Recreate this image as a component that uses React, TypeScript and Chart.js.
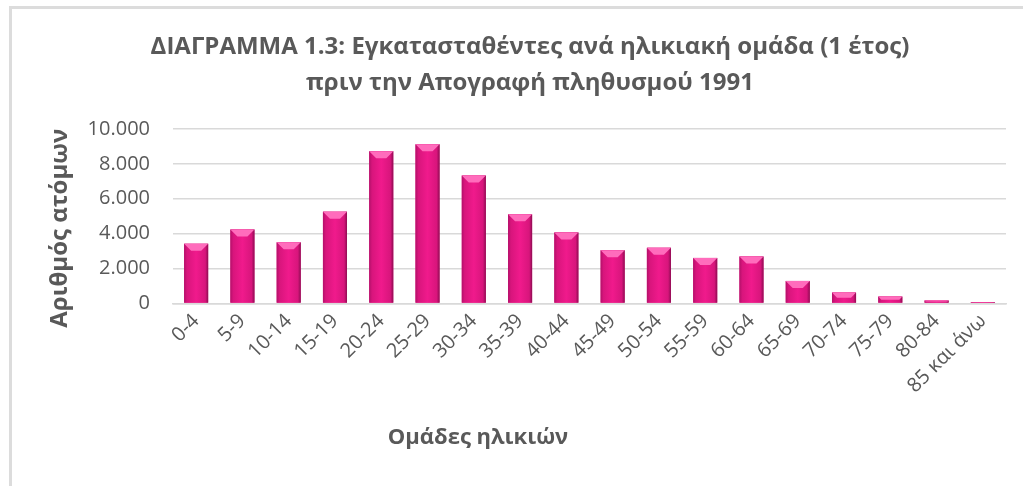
import React, { useEffect, useRef } from "react";
import { Chart, registerables } from "chart.js";

Chart.register(...registerables);

const categories = ["0-4","5-9","10-14","15-19","20-24","25-29","30-34","35-39","40-44","45-49","50-54","55-59","60-64","65-69","70-74","75-79","80-84","85 και άνω"];
const values = [3420,4240,3500,5260,8730,9120,7330,5110,4070,3050,3190,2610,2690,1290,620,390,170,80];
const titleLines = ["ΔΙΑΓΡΑΜΜΑ 1.3: Εγκατασταθέντες ανά ηλικιακή ομάδα (1 έτος)", "πριν την Απογραφή πληθυσμού 1991"];
const yTitle = "Αριθμός ατόμων";
const xTitle = "Ομάδες ηλικιών";

const FONT = "'Open Sans', 'Noto Sans', sans-serif";
const GREY = "#595959";

const bevelPlugin = {
  id: "bevel",
  afterDatasetsDraw(chart: any) {
    const ctx = chart.ctx;
    const meta = chart.getDatasetMeta(0);
    meta.data.forEach((bar: any) => {
      const { x, y, base, width } = bar.getProps(["x", "y", "base", "width"], true);
      const l = x - width / 2, r = x + width / 2;
      const h = base - y;
      if (h <= 0) return;
      ctx.save();
      const g = ctx.createLinearGradient(l, 0, r, 0);
      g.addColorStop(0, "#b3106a");
      g.addColorStop(0.12, "#d8157c");
      g.addColorStop(0.5, "#f01a8c");
      g.addColorStop(0.88, "#d8157c");
      g.addColorStop(1, "#8e0c52");
      ctx.fillStyle = g;
      ctx.fillRect(l, y, width, h);
      const bev = Math.min(7, h / 2);
      ctx.beginPath();
      ctx.moveTo(l, y);
      ctx.lineTo(r, y);
      ctx.lineTo(r - bev, y + bev);
      ctx.lineTo(l + bev, y + bev);
      ctx.closePath();
      ctx.fillStyle = "#ff6cbc";
      ctx.fill();
      ctx.restore();
    });
  },
};

const axisTitlesPlugin = {
  id: "axisTitlesText",
  afterDraw(chart: any) {
    const ctx = chart.ctx;
    const area = chart.chartArea;
    ctx.save();
    ctx.fillStyle = GREY;
    ctx.textAlign = "center";
    ctx.textBaseline = "middle";
    ctx.font = `bold 22px ${FONT}`;
    ctx.fillText(xTitle, 478, 438);
    ctx.font = `bold 24px ${FONT}`;
    ctx.translate(60, (area.top + area.bottom) / 2 + 12);
    ctx.rotate(-Math.PI / 2);
    ctx.fillText(yTitle, 0, 0);
    ctx.restore();
  },
};

export default function App() {
  const ref = useRef<HTMLCanvasElement>(null);
  useEffect(() => {
    document.body.style.margin = "0";
    const chart = new Chart(ref.current!, {
      type: "bar",
      data: {
        labels: categories,
        datasets: [
          {
            data: values,
            backgroundColor: "#e3157f",
            barPercentage: 0.52,
            categoryPercentage: 1,
          },
        ],
      },
      options: {
        animation: false,
        responsive: false,
        maintainAspectRatio: false,
        layout: { padding: { top: 14, right: 17, bottom: 82, left: 54 } },
        plugins: {
          legend: { display: false },
          tooltip: { enabled: false },
          title: {
            display: true,
            text: titleLines,
            color: GREY,
            font: { family: FONT, size: 24, weight: "bold", lineHeight: 1.5 },
            padding: { top: 15, bottom: 28 },
          },
        },
        scales: {
          x: {
            grid: { display: false, drawTicks: false },
            border: { display: true, color: "#d9d9d9", width: 1.5 },
            ticks: {
              color: GREY,
              font: { family: FONT, size: 20 },
              minRotation: 45,
              maxRotation: 45,
              padding: 6,
              autoSkip: false,
            },
          },
          y: {
            min: 0,
            max: 10000,
            afterFit: (scale: any) => {
              scale.width = 119;
            },
            grid: { color: "#d9d9d9", lineWidth: 1.5, drawTicks: false },
            border: { display: false },
            ticks: {
              stepSize: 2000,
              color: GREY,
              padding: 23,
              font: { family: FONT, size: 20 },
              callback: (v: any) => Number(v).toLocaleString("de-DE"),
            },
          },
        },
      },
      plugins: [bevelPlugin, axisTitlesPlugin],
    });
    return () => chart.destroy();
  }, []);
  return (
    <div style={{ position: "relative", width: 1023, height: 486, overflow: "hidden", background: "#fff" }}>
      <div style={{ position: "absolute", left: 9, top: 6, width: 1100, height: 600, border: "3px solid #dcdcdc", boxSizing: "border-box" }} />
      <canvas ref={ref} width={1023} height={486} style={{ position: "absolute", left: 0, top: 0, width: 1023, height: 486 }} />
    </div>
  );
}
